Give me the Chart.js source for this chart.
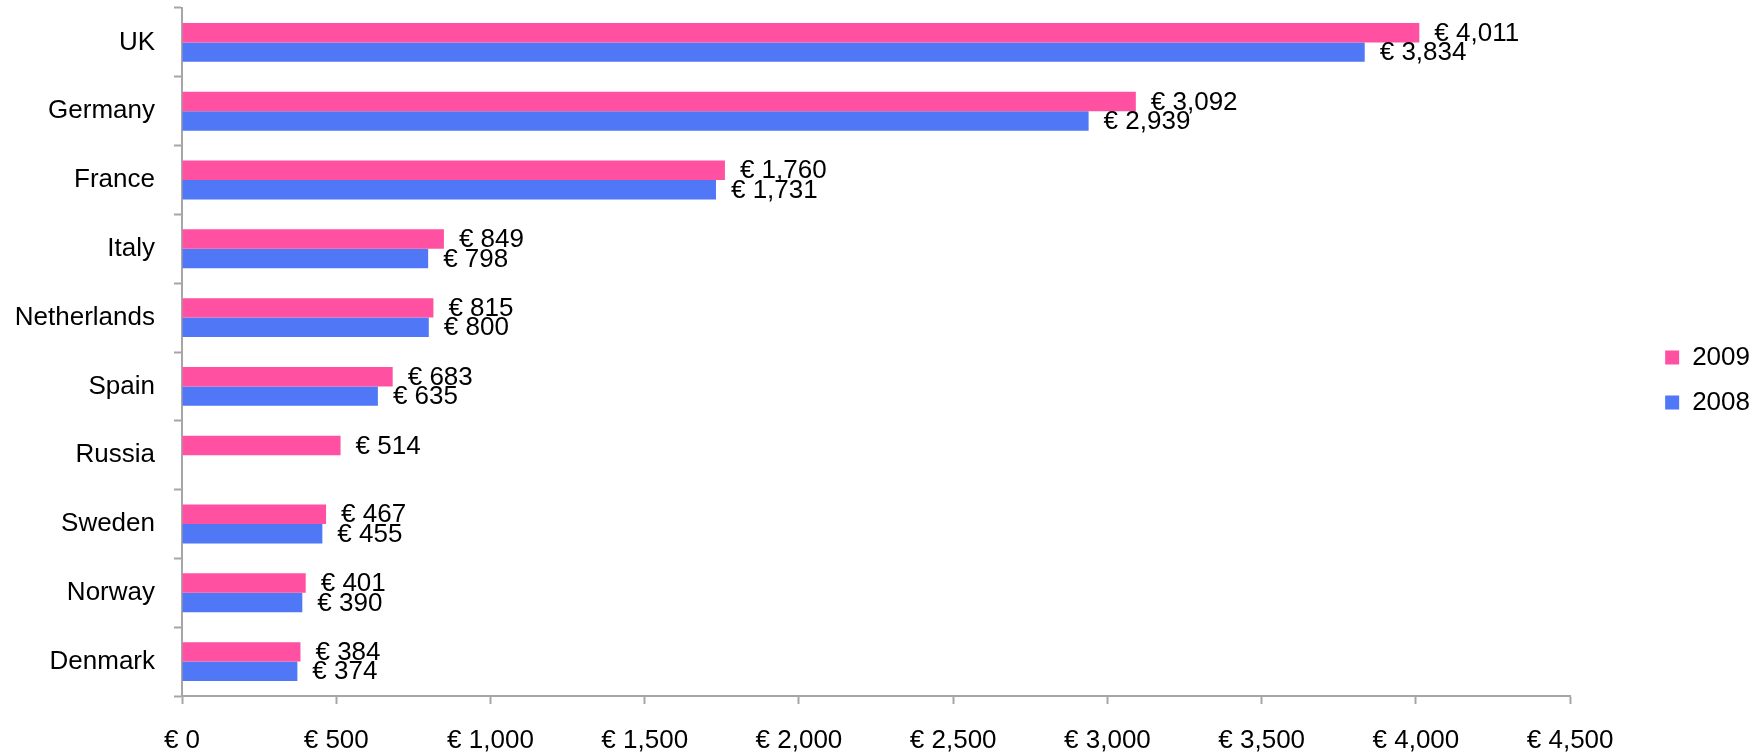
<!DOCTYPE html>
<html>
<head>
<meta charset="utf-8">
<title>Ventas por pais</title>
<script src="https://cdn.jsdelivr.net/npm/chart.js@4/dist/chart.umd.min.js"></script>
<style>
    html, body { margin: 0; padding: 0; background: #fff; }
    #dvCanvas { width: 1756px; height: 752px; }
</style>
</head>
<body>
<div id="dvCanvas"><canvas id="canvasBarras"></canvas></div>
<script>
var paises = ["UK", "Germany", "France", "Italy", "Netherlands", "Spain", "Russia", "Sweden", "Norway", "Denmark"];
var ventas2009 = [4011, 3092, 1760, 849, 815, 683, 514, 467, 401, 384];
var ventas2008 = [3834, 2939, 1731, 798, 800, 635, null, 455, 390, 374];
var ticksEje = [0, 500, 1000, 1500, 2000, 2500, 3000, 3500, 4000, 4500];

var fuente = '"Liberation Sans", Arial, sans-serif';
var colorRosa = "rgb(255, 80, 162)";
var colorAzul = "rgb(79, 119, 246)";
var colorEje = "#a6a6a6";

function euros(v) {
    return "€ " + Number(v).toLocaleString("en-US");
}

// dibuja "€ 4,011" al final de cada barra
var etiquetasBarras = {
    id: "etiquetasBarras",
    afterDatasetsDraw: function (chart) {
        var ctx = chart.ctx;
        ctx.save();
        ctx.font = "26px " + fuente;
        ctx.fillStyle = "#000";
        ctx.textAlign = "left";
        ctx.textBaseline = "middle";
        chart.data.datasets.forEach(function (ds, i) {
            chart.getDatasetMeta(i).data.forEach(function (bar, j) {
                var v = ds.data[j];
                if (v == null) return;
                ctx.fillText(euros(v), bar.x + 15, bar.y + 1);
            });
        });
        ctx.restore();
    }
};

// mueve la leyenda hacia la derecha sin cambiar el area del grafico
var moverLeyenda = {
    id: "moverLeyenda",
    afterLayout: function (chart) {
        if (chart.legend) {
            chart.legend.left += 76;
            chart.legend.right += 76;
        }
    }
};

var ctx = document.getElementById("canvasBarras").getContext("2d");

window.myBar = new Chart(ctx, {
    type: "bar",
    data: {
        labels: paises,
        datasets: [{
            label: "2009",
            backgroundColor: colorRosa,
            borderWidth: 0,
            data: ventas2009
        }, {
            label: "2008",
            backgroundColor: colorAzul,
            borderWidth: 0,
            data: ventas2008
        }]
    },
    options: {
        indexAxis: "y",
        responsive: true,
        maintainAspectRatio: false,
        animation: false,
        categoryPercentage: 0.565,
        barPercentage: 1.0,
        layout: {
            padding: { top: 8, right: 72, left: 0, bottom: 0 }
        },
        scales: {
            x: {
                min: 0,
                max: 4500,
                afterBuildTicks: function (scale) {
                    scale.ticks = ticksEje.map(function (v) { return { value: v }; });
                },
                afterFit: function (scale) { scale.height = 56; },
                grid: {
                    drawOnChartArea: false,
                    drawTicks: true,
                    tickLength: 8,
                    tickWidth: 2,
                    tickColor: colorEje
                },
                border: { display: true, color: colorEje, width: 2 },
                ticks: {
                    padding: 21,
                    color: "#000",
                    font: { family: fuente, size: 26 },
                    maxRotation: 0,
                    callback: function (v) { return euros(v); }
                }
            },
            y: {
                afterFit: function (scale) {
                    scale.width = 182;
                    scale.paddingTop = 0;
                    scale.paddingBottom = 0;
                },
                grid: {
                    drawOnChartArea: false,
                    drawTicks: true,
                    tickLength: 8,
                    tickWidth: 2,
                    tickColor: colorEje
                },
                border: { display: true, color: colorEje, width: 2 },
                ticks: {
                    padding: 19,
                    color: "#000",
                    font: { family: fuente, size: 26 }
                }
            }
        },
        plugins: {
            legend: {
                position: "right",
                labels: {
                    boxWidth: 14,
                    boxHeight: 14,
                    padding: 19,
                    color: "#000",
                    font: { family: fuente, size: 26 }
                }
            },
            title: { display: false },
            tooltip: { enabled: false }
        }
    },
    plugins: [etiquetasBarras, moverLeyenda]
});
</script>
</body>
</html>
